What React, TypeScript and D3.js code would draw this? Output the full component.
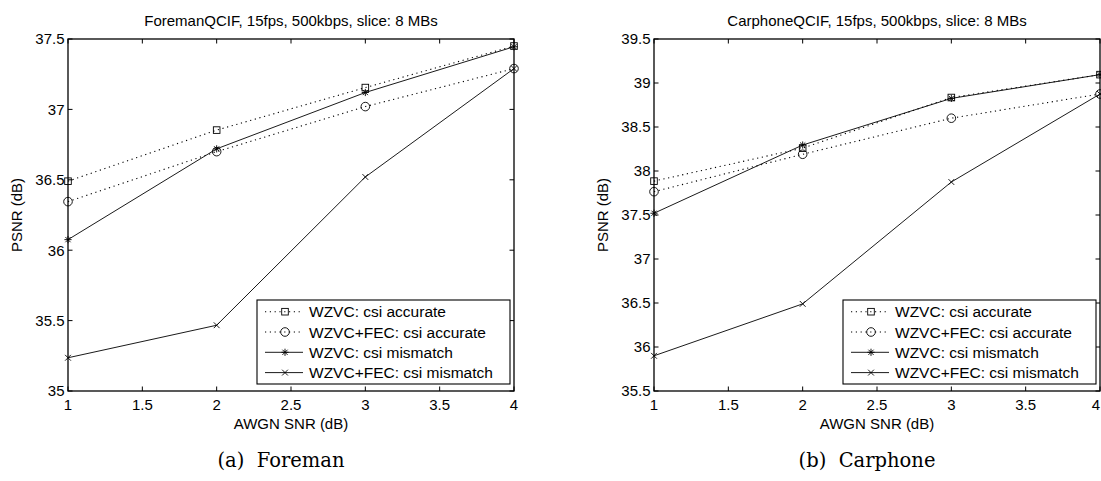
import React from "react";
import * as d3 from "d3";

// AWGN channel SNR (dB) on the x axis
const snr = [1, 2, 3, 4];
const xTicks = [1, 1.5, 2, 2.5, 3, 3.5, 4];

// Foreman QCIF, PSNR (dB)
const foremanAccurate = [36.49, 36.853, 37.155, 37.45];
const foremanFecAccurate = [36.345, 36.7, 37.02, 37.29];
const foremanMismatch = [36.075, 36.72, 37.12, 37.445];
const foremanFecMismatch = [35.236, 35.467, 36.52, 37.29];
const foremanYTicks = [35, 35.5, 36, 36.5, 37, 37.5];

// Carphone QCIF, PSNR (dB)
const carphoneAccurate = [37.885, 38.26, 38.835, 39.095];
const carphoneFecAccurate = [37.765, 38.19, 38.6, 38.875];
const carphoneMismatch = [37.52, 38.295, 38.825, 39.095];
const carphoneFecMismatch = [35.9, 36.49, 37.875, 38.875];
const carphoneYTicks = [35.5, 36, 36.5, 37, 37.5, 38, 38.5, 39, 39.5];

const seriesNames = [
  "WZVC: csi accurate",
  "WZVC+FEC: csi accurate",
  "WZVC: csi mismatch",
  "WZVC+FEC: csi mismatch",
];

type MarkerKind = "square" | "circle" | "star" | "cross";
const markerKinds: MarkerKind[] = ["square", "circle", "star", "cross"];
const dotted = [true, true, false, false];

const FONT = "'Liberation Sans', Arial, Helvetica, sans-serif";
const DOTS = "1.2,3.6";
const SVG_W = 1101;

function Marker({ kind, x, y }: { kind: MarkerKind; x: number; y: number }) {
  const common = { stroke: "#000", strokeWidth: 0.9, fill: "none" };
  if (kind === "square") {
    const s = 3.3;
    return <rect x={x - s} y={y - s} width={2 * s} height={2 * s} {...common} />;
  }
  if (kind === "circle") {
    return <circle cx={x} cy={y} r={4.3} {...common} />;
  }
  if (kind === "cross") {
    const s = 2.9;
    return (
      <path
        d={`M${x - s},${y - s}L${x + s},${y + s}M${x - s},${y + s}L${x + s},${y - s}`}
        {...common}
      />
    );
  }
  const s = 3.6;
  const d = 2.6;
  return (
    <path
      d={`M${x - s},${y}L${x + s},${y}M${x},${y - s}L${x},${y + s}M${x - d},${y - d}L${x + d},${y + d}M${x - d},${y + d}L${x + d},${y - d}`}
      {...common}
    />
  );
}

interface PanelProps {
  left: number;
  title: string;
  caption: string;
  yDomain: [number, number];
  yTicks: number[];
  series: number[][];
}

const TOP = 39;
const BOTTOM = 391;
const WIDTH = 446;

function Panel({ left, title, caption, yDomain, yTicks, series }: PanelProps) {
  const right = left + WIDTH;
  const x = d3.scaleLinear().domain([1, 4]).range([left, right]);
  const y = d3.scaleLinear().domain(yDomain).range([BOTTOM, TOP]);
  const line = d3
    .line<number>()
    .x((_, i) => x(snr[i]))
    .y((v) => y(v));
  const tickLen = 4.5;
  const midX = (left + right) / 2;

  // legend box geometry, anchored to the lower-right corner of the axes
  const lgRight = right - 4;
  const lgLeft = lgRight - 253;
  const lgBottom = BOTTOM - 7;
  const lgTop = lgBottom - 84;
  const rowY = (i: number) => lgTop + 11.7 + i * 20.3;

  return (
    <g>
      <text x={midX} y={26} textAnchor="middle" fontFamily={FONT} fontSize={15}>
        {title}
      </text>

      {series.map((vals, k) => (
        <path
          key={"l" + k}
          d={line(vals) || ""}
          fill="none"
          stroke="#000"
          strokeWidth={dotted[k] ? 1.1 : 0.9}
          strokeDasharray={dotted[k] ? DOTS : undefined}
        />
      ))}
      {series.map((vals, k) =>
        vals.map((v, i) => (
          <Marker key={`m${k}-${i}`} kind={markerKinds[k]} x={x(snr[i])} y={y(v)} />
        ))
      )}

      {/* axes box with inward ticks on all four sides */}
      <rect x={left} y={TOP} width={WIDTH} height={BOTTOM - TOP} fill="none" stroke="#000" strokeWidth={1.3} />
      {xTicks.map((t) => {
        // keep a label that would run past the canvas edge inside it
        const tx = x(t);
        const overflow = tx + 5 > SVG_W;
        return (
          <g key={"xt" + t}>
            <line x1={tx} x2={tx} y1={BOTTOM} y2={BOTTOM - tickLen} stroke="#000" strokeWidth={1} />
            <line x1={tx} x2={tx} y1={TOP} y2={TOP + tickLen} stroke="#000" strokeWidth={1} />
            <text
              x={overflow ? SVG_W - 1 : tx}
              y={409.5}
              textAnchor={overflow ? "end" : "middle"}
              fontFamily={FONT}
              fontSize={15}
            >
              {String(t)}
            </text>
          </g>
        );
      })}
      {yTicks.map((t) => (
        <g key={"yt" + t}>
          <line x1={left} x2={left + tickLen} y1={y(t)} y2={y(t)} stroke="#000" strokeWidth={1} />
          <line x1={right} x2={right - tickLen} y1={y(t)} y2={y(t)} stroke="#000" strokeWidth={1} />
          <text x={left - 3.5} y={y(t)} dy="0.36em" textAnchor="end" fontFamily={FONT} fontSize={15}>
            {String(t)}
          </text>
        </g>
      ))}

      <text x={midX} y={429} textAnchor="middle" fontFamily={FONT} fontSize={15}>
        AWGN SNR (dB)
      </text>
      <text
        transform={`translate(${left - 46},${(TOP + BOTTOM) / 2}) rotate(-90)`}
        textAnchor="middle"
        fontFamily={FONT}
        fontSize={15}
      >
        PSNR (dB)
      </text>

      {/* legend */}
      <rect x={lgLeft} y={lgTop} width={lgRight - lgLeft} height={lgBottom - lgTop} fill="#fff" stroke="#000" strokeWidth={1.1} />
      {seriesNames.map((name, i) => (
        <g key={"lg" + i}>
          <line
            x1={lgLeft + 8}
            x2={lgLeft + 46}
            y1={rowY(i)}
            y2={rowY(i)}
            stroke="#000"
            strokeWidth={dotted[i] ? 1.1 : 0.9}
            strokeDasharray={dotted[i] ? DOTS : undefined}
          />
          <Marker kind={markerKinds[i]} x={lgLeft + 28} y={rowY(i)} />
          <text x={lgLeft + 52} y={rowY(i)} dy="0.36em" fontFamily={FONT} fontSize={15.5}>
            {name}
          </text>
        </g>
      ))}

      <text
        x={midX - 10}
        y={467}
        textAnchor="middle"
        fontFamily="'DejaVu Serif', serif"
        fontSize={19.5}
        style={{ whiteSpace: "pre" }}
      >
        {caption}
      </text>
    </g>
  );
}

export default function App() {
  return (
    <svg
      width={SVG_W}
      height={481}
      style={{ position: "absolute", left: 0, top: 0, background: "#fff" }}
    >
      <rect width={SVG_W} height={481} fill="#fff" />
      <Panel
        left={68}
        title="ForemanQCIF, 15fps, 500kbps, slice: 8 MBs"
        caption="(a)  Foreman"
        yDomain={[35, 37.5]}
        yTicks={foremanYTicks}
        series={[foremanAccurate, foremanFecAccurate, foremanMismatch, foremanFecMismatch]}
      />
      <Panel
        left={654}
        title="CarphoneQCIF, 15fps, 500kbps, slice: 8 MBs"
        caption="(b)  Carphone"
        yDomain={[35.5, 39.5]}
        yTicks={carphoneYTicks}
        series={[carphoneAccurate, carphoneFecAccurate, carphoneMismatch, carphoneFecMismatch]}
      />
    </svg>
  );
}
